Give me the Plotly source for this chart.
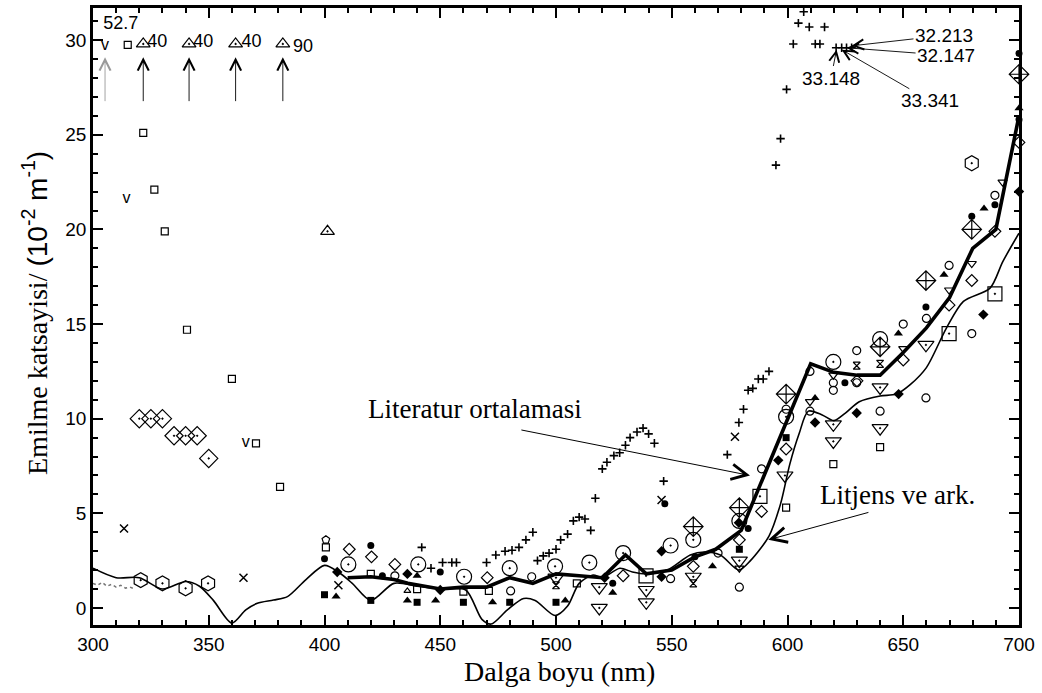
import plotly.graph_objects as go

# ---------------- data ----------------
avg_x = [410, 420, 430, 436, 450, 460, 470, 480, 490, 500, 510, 520, 530, 539, 550, 560, 569, 580, 610, 620, 630, 640, 650, 660, 670, 680, 690, 700]
avg_y = [1.6, 1.65, 1.5, 1.3, 1.0, 1.1, 1.1, 1.6, 1.3, 1.8, 1.7, 1.6, 2.8, 1.8, 2.0, 2.7, 3.1, 4.1, 12.9, 12.45, 12.3, 12.3, 13.5, 14.8, 16.4, 19.0, 20.0, 26.0]

lit_x = [300, 310, 320, 330, 340, 346, 352, 360, 366, 371, 378, 384, 392, 400, 406, 412, 420, 430, 440, 450, 461, 468, 472, 479, 486, 491, 499.6, 505, 510, 516, 520, 527.6, 533, 539, 548, 558, 564, 571, 579, 584, 592, 597, 601, 605, 609, 615, 620, 625, 631, 640, 647, 653, 660, 668.7, 676, 687.5, 693, 700]
lit_y = [2.1, 1.6, 1.6, 1.0, 1.4, 1.15, 0.4, -0.8, -0.1, 0.25, 0.42, 0.6, 1.5, 2.25, 1.9, 1.3, 0.4, 1.3, 1.15, 1.0, 0.95, -0.6, -0.85, -0.1, 0.5, 0.4, -0.4, 0.1, 1.3, 1.74, 1.6, 2.1, 1.9, 1.8, 2.0, 2.8, 2.96, 2.8, 2.0, 2.5, 3.8, 5.5, 7.6, 9.2, 10.4, 10.2, 9.9, 10.3, 10.9, 11.2, 11.3, 11.8, 12.7, 14.8, 16.2, 16.9, 18.3, 19.8]

dot_x = [300, 302, 304, 306, 308, 310, 312, 314, 316, 318]
dot_y = [1.3, 1.2, 1.35, 1.15, 1.25, 1.1, 1.2, 1.05, 1.1, 1.0]

plus_x = [442, 446, 451, 455, 457, 470, 474, 478, 481, 484, 487, 490, 492, 494.5, 497, 500, 502, 505, 507.5, 510,
          512.5, 515, 517, 520, 522, 525, 527.5, 530, 532, 535, 537.6, 540, 542.5, 546.5, 574, 579, 581, 583, 585, 587.4,
          589.5, 592, 595, 597, 599.6, 602.5, 604.7, 607, 609.4, 612, 614, 616, 621, 623.4, 625.5, 627.7]
plus_y = [3.2, 2.1, 2.4, 2.4, 2.4, 2.4, 2.8, 3.0, 3.05, 3.2, 3.6, 4.0, 2.5, 2.75, 2.9, 3.1, 3.6, 3.9, 4.6, 4.8,
          4.7, 4.1, 5.8, 7.35, 7.7, 8.05, 8.2, 8.6, 9.0, 9.3, 9.5, 9.2, 8.7, 6.7, 8.1, 9.8, 10.5, 11.5, 11.6, 12.1,
          12.1, 12.5, 23.4, 24.8, 27.4, 29.8, 30.9, 31.5, 30.7, 29.8, 29.8, 30.7, 29.6, 29.6, 29.6, 29.6]

fc_x = [400, 420, 425, 450, 524.5, 547, 560, 583, 624.8, 659.8, 679.6, 689.6, 700, 700]
fc_y = [2.6, 3.3, 1.7, 1.9, 1.3, 5.5, 2.7, 4.2, 11.9, 15.9, 20.7, 21.3, 29.3, 25.8]

oc_x = [430.4, 480.4, 489.5, 549.5, 570, 579.2, 588.8, 599.4, 609.7, 609.7, 619.8, 619.8, 629.9, 629.9, 640, 650, 659.8, 660, 669.8, 679.6, 689.6]
oc_y = [1.7, 0.9, 1.65, 1.55, 2.9, 1.1, 7.35, 10.5, 12.5, 10.4, 11.5, 11.9, 13.6, 11.9, 10.4, 15.0, 11.1, 15.3, 18.1, 14.5, 21.8]

od_x = [410.7, 420.3, 430.4, 470.3, 529, 559.3, 579.2, 588.8, 599.4, 630, 650, 669.8, 679.6, 689.6, 700]
od_y = [3.1, 2.7, 2.3, 1.6, 1.7, 2.2, 3.6, 5.1, 8.4, 12.0, 13.1, 16.0, 17.3, 19.9, 24.6]

pent_x = [400.6]
pent_y = [3.6]

dd_x = [320, 325, 330, 335, 340, 345, 350]
dd_y = [10.0, 10.0, 10.0, 9.1, 9.1, 9.1, 7.9]

fd_x = [405.5, 435.8, 450, 521, 545.6, 545.6, 579, 596, 611.9, 629.9, 648, 684.6, 700]
fd_y = [1.9, 1.8, 0.95, 1.6, 1.65, 3.0, 4.5, 7.8, 9.8, 10.3, 11.3, 15.5, 22.0]

fs_x = [400, 420, 440, 460, 480, 500, 579.2, 599.4]
fs_y = [0.7, 0.4, 0.3, 0.3, 0.3, 0.3, 3.1, 9.0]

ft_x = [405, 435.8, 440, 448, 472.6, 504, 524.5, 567.6, 611.9, 647.9, 667.6, 684.9, 700]
ft_y = [0.6, 0.4, 1.7, 0.4, 0.3, 0.4, 0.8, 2.2, 11.1, 14.5, 17.6, 21.1, 26.4]

tuo_x = [435.8]
tuo_y = [0.9]

os_x = [315, 321.7, 326.5, 331, 340.6, 360, 370.4, 380.8, 400.6, 420, 440, 460, 471, 509, 599.4, 619.8, 640]
os_y = [29.75, 25.1, 22.1, 19.9, 14.7, 12.1, 8.7, 6.4, 3.2, 1.8, 1.0, 0.86, 0.9, 1.3, 5.3, 7.6, 8.5]

cd_x = [410.3, 440.5, 460.3, 480, 499.6, 514.4, 529, 549.5, 559.3, 579.2, 599.4, 619.8, 640]
cd_y = [2.3, 2.3, 1.65, 2.1, 2.2, 2.4, 2.9, 3.3, 3.6, 4.6, 10.1, 13.0, 14.2]

dc_x = [559.3, 579.2, 599.4, 640, 659.8, 679.6, 700]
dc_y = [4.3, 5.3, 11.3, 13.8, 17.3, 20.0, 28.2]

td_x = [500, 518.7, 518.7, 539, 539, 559.3, 579.2, 598.9, 619.8, 619.8, 640, 640, 659.8]
td_y = [1.6, 1.1, 0.0, 0.95, 0.3, 1.65, 2.5, 7.0, 9.7, 8.8, 11.65, 9.5, 13.9]

tds_x = [579.2, 609.7, 619.8, 650, 669.8, 679.6, 692.9]
tds_y = [2.1, 10.9, 12.3, 13.7, 16.8, 18.2, 22.5]

hg_x = [500, 559.3, 629.9, 640]
hg_y = [1.2, 1.3, 12.8, 12.9]

hx_x = [320.6, 330, 340, 349.7, 679.6]
hx_y = [1.47, 1.3, 1.04, 1.3, 23.5]

sd_x = [538.9, 588.1, 669.8, 689.6]
sd_y = [1.7, 5.9, 14.5, 16.6]

xm_x = [313.4, 365, 406, 545.6, 577.3]
xm_y = [4.2, 1.6, 1.2, 5.7, 9.05]

tu_x = [321.7, 341.5, 361.6, 382, 401.3]
tu_y = [29.8, 29.8, 29.8, 29.8, 19.9]

v_x = [305.2, 314.5, 366]
v_y = [29.7, 21.6, 8.7]

top_labels = ["52.7", "40", "40", "40", "90"]
top_label_x = [312, 327.8, 347.6, 368.5, 390.7]
top_label_y = [30.85, 29.9, 29.9, 29.9, 29.6]

arrow_up_x = [305.2, 321.7, 341.5, 361.6, 382]

peak_labels = ["32.213", "32.147", "33.148", "33.341"]
peak_label_x = [667.6, 668.5, 618.8, 661.6]
peak_label_y = [30.25, 29.2, 28.0, 26.8]
peak_x = [627.7, 625.5, 621.2, 623.4]
peak_y = [29.7, 29.6, 29.5, 29.5]

x_ticks = [300, 350, 400, 450, 500, 550, 600, 650, 700]
y_ticks = [0, 5, 10, 15, 20, 25, 30]

SERIF = "Liberation Serif, Times New Roman, serif"
SANS = "Liberation Sans, Arial, sans-serif"

fig = go.Figure()

fig.add_trace(go.Scatter(x=dot_x, y=dot_y, mode="lines",
                         line=dict(color="#777", width=1.5, dash="dot"), hoverinfo="skip"))
fig.add_trace(go.Scatter(x=lit_x, y=lit_y, mode="lines",
                         line=dict(color="black", width=1.6, shape="spline", smoothing=0.8)))
fig.add_trace(go.Scatter(x=avg_x, y=avg_y, mode="lines",
                         line=dict(color="black", width=3.6)))


def mk(x, y, symbol, size, lw=1.2):
    fig.add_trace(go.Scatter(
        x=x, y=y, mode="markers", cliponaxis=False,
        marker=dict(symbol=symbol, size=size, color="black",
                    line=dict(color="black", width=lw))))


mk(plus_x, plus_y, "cross-thin-open", 6, 1.6)
mk(fc_x, fc_y, "circle", 7, 0)
mk(oc_x, oc_y, "circle-open", 8)
mk(od_x, od_y, "diamond-open", 9)
mk(pent_x, pent_y, "pentagon-open", 8)
mk(dd_x, dd_y, "diamond-open-dot", 14)
mk(fd_x, fd_y, "diamond", 8, 0)
mk(fs_x, fs_y, "square", 7, 0)
mk(ft_x, ft_y, "triangle-up", 8, 0)
mk(tuo_x, tuo_y, "triangle-up-open", 6)
mk(os_x, os_y, "square-open", 7)
mk(cd_x, cd_y, "circle-open-dot", 15)
mk(dc_x, dc_y, "diamond-cross-open", 15)
mk(td_x, td_y, "triangle-down-open-dot", 14)
mk(tds_x, tds_y, "triangle-down-open", 8)
mk(hg_x, hg_y, "hourglass-open", 7)
mk(hx_x, hx_y, "hexagon-open-dot", 15)
mk(sd_x, sd_y, "square-open-dot", 14)
mk(xm_x, xm_y, "x-thin-open", 8, 1.5)
mk(tu_x, tu_y, "triangle-up-open-dot", 12)

fig.add_trace(go.Scatter(x=v_x, y=v_y, mode="text", text=["v"] * len(v_x),
                         textfont=dict(family=SANS, size=16, color="black"), cliponaxis=False))
fig.add_trace(go.Scatter(x=top_label_x, y=top_label_y, mode="text", text=top_labels,
                         textfont=dict(family=SANS, size=18, color="black"), cliponaxis=False))

annotations = []
for i, ax_ in enumerate(arrow_up_x):
    annotations.append(dict(x=ax_, y=29.1, ax=ax_, ay=26.7, xref="x", yref="y", axref="x", ayref="y",
                            text="", showarrow=True, arrowhead=5, arrowsize=2.4, arrowwidth=0.9,
                            arrowcolor="#999" if i == 0 else "black"))
for lbl, lx, ly, px, py in zip(peak_labels, peak_label_x, peak_label_y, peak_x, peak_y):
    annotations.append(dict(x=px, y=py, ax=lx, ay=ly, xref="x", yref="y", axref="x", ayref="y",
                            text=lbl, showarrow=True, arrowhead=5, arrowsize=2.2, arrowwidth=0.9,
                            arrowcolor="black",
                            font=dict(family=SANS, size=19, color="black")))

annotations += [
    dict(x=465, y=10.5, xref="x", yref="y", text="Literatur ortalamasi", showarrow=False,
         font=dict(family=SERIF, size=27, color="black")),
    dict(x=583.8, y=7.0, ax=484.4, ay=9.42, xref="x", yref="y", axref="x", ayref="y", text="",
         showarrow=True, arrowhead=5, arrowsize=3, arrowwidth=1.0, arrowcolor="black"),
    dict(x=647.7, y=5.95, xref="x", yref="y", text="Litjens ve ark.", showarrow=False,
         font=dict(family=SERIF, size=27, color="black")),
    dict(x=591.7, y=3.6, ax=635.6, ay=5.07, xref="x", yref="y", axref="x", ayref="y", text="",
         showarrow=True, arrowhead=5, arrowsize=3, arrowwidth=1.0, arrowcolor="black"),
    dict(x=0.504, y=-0.076, xref="paper", yref="paper", text="Dalga boyu (nm)", showarrow=False,
         xanchor="center", yanchor="middle", font=dict(family=SERIF, size=28, color="black")),
    dict(x=-0.062, y=0.505, xref="paper", yref="paper", textangle=-90, showarrow=False,
         xanchor="center", yanchor="middle",
         text='Emilme katsayisi/ <span style="font-family:Liberation Sans">(10<sup>-2</sup> m<sup>-1</sup>)</span>',
         font=dict(family=SERIF, size=28, color="black")),
]

axis_common = dict(showline=True, linecolor="black", linewidth=2.5, mirror="ticks",
                   ticks="inside", ticklen=10, tickwidth=2, tickcolor="black",
                   showgrid=False, zeroline=False,
                   tickfont=dict(family=SANS, size=19, color="black"))

fig.update_layout(
    width=1042, height=693,
    margin=dict(l=93, r=23, t=5, b=68),
    paper_bgcolor="white", plot_bgcolor="white",
    showlegend=False,
    annotations=annotations,
    xaxis=dict(range=[300, 700], tickvals=x_ticks,
               minor=dict(dtick=10, ticks="inside", ticklen=5, tickwidth=1.5, tickcolor="black"),
               **axis_common),
    yaxis=dict(range=[-0.9, 31.7], tickvals=y_ticks,
               minor=dict(dtick=1, ticks="inside", ticklen=5, tickwidth=1.5, tickcolor="black"),
               **axis_common),
)

fig.write_html("out.html")
